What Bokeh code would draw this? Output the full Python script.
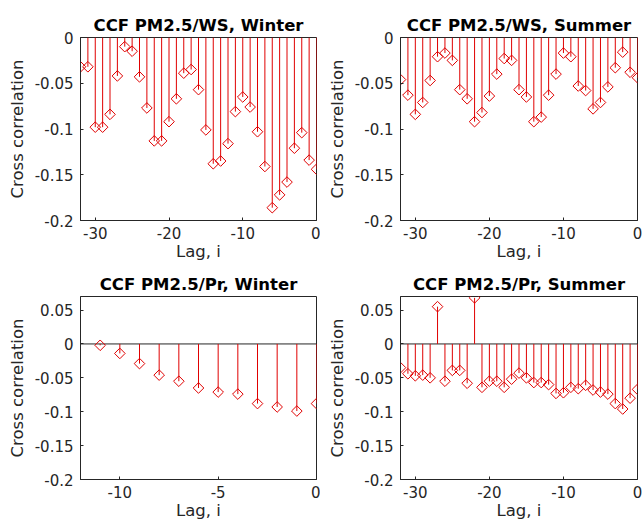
import numpy as np
from bokeh.plotting import figure
from bokeh.models import Range1d, FixedTicker, CustomJSTickFormatter, Span
from bokeh.layouts import column, row
from bokeh.embed import file_html
from bokeh.resources import INLINE

# ---------------- data ----------------
lags_long = list(range(-32, 1))
lags_short = list(range(-11, 1))

ws_winter = [-0.032, -0.032, -0.098, -0.098, -0.084, -0.042, -0.010, -0.015,
             -0.043, -0.077, -0.113, -0.113, -0.092, -0.067, -0.039, -0.035,
             -0.057, -0.101, -0.138, -0.135, -0.116, -0.081, -0.065, -0.076,
             -0.103, -0.141, -0.186, -0.172, -0.158, -0.121, -0.104, -0.134,
             -0.144]

ws_summer = [-0.046, -0.063, -0.084, -0.071, -0.047, -0.021, -0.017, -0.025,
             -0.057, -0.067, -0.092, -0.082, -0.064, -0.040, -0.023, -0.025,
             -0.057, -0.065, -0.092, -0.087, -0.063, -0.040, -0.017, -0.021,
             -0.053, -0.058, -0.078, -0.071, -0.054, -0.033, -0.016, -0.038,
             -0.044]

pr_winter = [-0.002, -0.014, -0.029, -0.046, -0.055, -0.065, -0.071, -0.074,
             -0.088, -0.093, -0.099, -0.088]

pr_summer = [-0.035, -0.044, -0.047, -0.046, -0.050, 0.055, -0.055, -0.039,
             -0.039, -0.058, 0.068, -0.064, -0.055, -0.055, -0.064, -0.052,
             -0.043, -0.050, -0.057, -0.057, -0.060, -0.073, -0.072, -0.064,
             -0.066, -0.061, -0.068, -0.071, -0.074, -0.088, -0.096, -0.080,
             -0.067]

titles = ["CCF PM2.5/WS, Winter", "CCF PM2.5/WS, Summer",
          "CCF PM2.5/Pr, Winter", "CCF PM2.5/Pr, Summer"]
xticks_long = [-30, -20, -10, 0]
xticks_short = [-10, -5, 0]
yticks_top = [-0.2, -0.15, -0.1, -0.05, 0]
yticks_bottom = [-0.2, -0.15, -0.1, -0.05, 0, 0.05]
x_label = "Lag, i"
y_label = "Cross correlation"

RED = "#e00000"
AX = "#262626"
FONT = "DejaVu Sans"

fmt = CustomJSTickFormatter(code="""
let s = tick.toFixed(2);
if (s.indexOf('.') >= 0) { s = s.replace(/0+$/, '').replace(/\\.$/, ''); }
if (s === '-0') { s = '0'; }
return s;
""")


def panel(title, lags, vals, xr, yr, xticks, yticks, width, height,
          bl, br, bt, bb):
    p = figure(width=width, height=height, output_backend="svg",
               toolbar_location=None, x_range=Range1d(*xr),
               y_range=Range1d(*yr),
               min_border_left=bl, min_border_right=br,
               min_border_top=bt, min_border_bottom=bb)
    p.title.text = title
    p.title.align = "center"
    p.title.text_font = FONT
    p.title.text_font_size = "16.5px"
    p.title.text_font_style = "bold"
    p.title.text_color = "black"
    p.title.standoff = 5
    p.xgrid.visible = False
    p.ygrid.visible = False
    p.outline_line_color = AX
    p.outline_line_width = 1
    p.outline_line_alpha = 1
    p.background_fill_color = "white"
    p.border_fill_color = "white"
    for ax in (p.xaxis[0], p.yaxis[0]):
        ax.axis_line_color = AX
        ax.major_tick_line_color = AX
        ax.major_tick_in = 3
        ax.major_tick_out = 0
        ax.minor_tick_line_color = None
        ax.major_label_text_font = FONT
        ax.major_label_text_font_size = "15px"
        ax.major_label_text_color = AX
        ax.axis_label_text_font = FONT
        ax.axis_label_text_font_size = "16.5px"
        ax.axis_label_text_font_style = "normal"
        ax.axis_label_text_color = AX
        ax.formatter = fmt
    p.xaxis[0].ticker = FixedTicker(ticks=xticks)
    p.yaxis[0].ticker = FixedTicker(ticks=yticks)
    p.xaxis[0].axis_label = x_label
    p.yaxis[0].axis_label = y_label
    p.xaxis[0].major_label_standoff = 6
    p.xaxis[0].axis_label_standoff = 0
    p.yaxis[0].major_label_standoff = 7
    p.yaxis[0].axis_label_standoff = 5

    p.add_layout(Span(location=0, dimension="width", line_color=AX,
                      line_width=1, level="underlay"))
    xs = [[x, x] for x in lags]
    ys = [[0, v] for v in vals]
    p.multi_line(xs=xs, ys=ys, line_color=RED, line_width=1)
    p.scatter(x=lags, y=vals, marker="square", angle=np.pi / 4, size=7.5,
              fill_color=None, line_color=RED, line_width=1)
    return p


p1 = panel(titles[0], lags_long, ws_winter, (-32, 0), (-0.2, 0),
           xticks_long, yticks_top, 320, 266, 80, 4, 37, 46)
p2 = panel(titles[1], lags_long, ws_summer, (-32, 0), (-0.2, 0),
           xticks_long, yticks_top, 323, 266, 80, 6, 37, 46)
p3 = panel(titles[2], lags_short, pr_winter, (-12, 0), (-0.2, 0.07),
           xticks_short, yticks_bottom, 320, 256, 80, 4, 30, 43)
p4 = panel(titles[3], lags_long, pr_summer, (-32, 0), (-0.2, 0.07),
           xticks_long, yticks_bottom, 323, 256, 80, 6, 30, 43)

layout = column(row(p1, p2), row(p3, p4))

open("out.html", "w").write(file_html(layout, INLINE))
